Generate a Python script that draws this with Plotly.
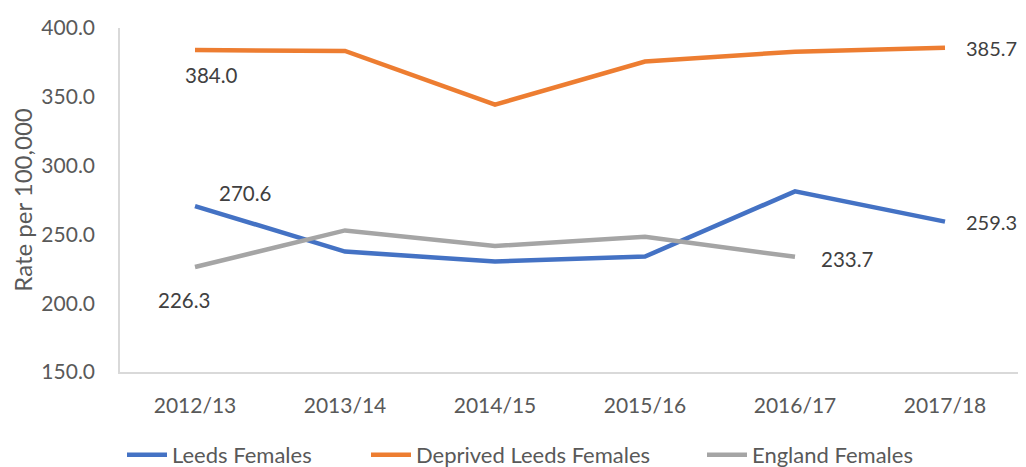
import plotly.graph_objects as go

years = ["2012/13", "2013/14", "2014/15", "2015/16", "2016/17", "2017/18"]
leeds = [270.6, 237.5, 230.3, 233.9, 281.3, 259.3]
deprived = [384.0, 383.3, 344.3, 375.6, 382.8, 385.7]
england = [226.3, 252.9, 241.6, 248.3, 233.7, None]

y_ticks = [150, 200, 250, 300, 350, 400]

FONT = "Lato"
TXT = "#595959"
LBL = "#404040"

# page body has an 8px margin; figure drawn 8px in from the window edges
W, H = 1018, 459

series_defs = [
    ("Leeds Females", leeds, "#4472C4", "legend", 122),
    ("Deprived Leeds Females", deprived, "#ED7D31", "legend2", 366),
    ("England Females", england, "#A5A5A5", "legend3", 702),
]

fig = go.Figure()
for name, vals, color, leg, _ in series_defs:
    fig.add_trace(go.Scatter(x=years, y=vals, name=name, mode="lines", legend=leg,
                             line=dict(color=color, width=4.5)))

# data labels: (series, index, xshift, yshift, size)
labels = [
    (deprived, 0, 16, -25, 20.5),
    (deprived, 5, 46, 0, 20),
    (leeds, 0, 50, 13, 20.5),
    (leeds, 5, 46, 0, 20),
    (england, 0, -11, -33, 20.5),
    (england, 4, 52, -2, 20.5),
]
for series, i, xs, ys, sz in labels:
    fig.add_annotation(x=years[i], y=series[i], xref="x", yref="y",
                       text=f"{series[i]:.1f}", showarrow=False,
                       xshift=xs, yshift=ys,
                       font=dict(family=FONT, size=sz, color=LBL))

legend_common = dict(orientation="h", xref="container", yref="container",
                     xanchor="left", y=1 - (455 - 8) / H, yanchor="middle",
                     font=dict(family=FONT, size=22, color=TXT), itemwidth=40)
layout_legends = {}
for name, vals, color, leg, x0 in series_defs:
    layout_legends[leg] = dict(legend_common, x=(x0 - 8) / W)

fig.update_layout(
    width=W, height=H,
    margin=dict(l=112, r=6, t=18, b=95),
    paper_bgcolor="white", plot_bgcolor="white",
    font=dict(family=FONT, size=21, color=TXT),
    showlegend=True,
    **layout_legends,
)
fig.update_xaxes(range=[-0.5, 5.5], showgrid=False, showline=True, linecolor="#D9D9D9",
                 linewidth=1.5, ticks="", tickfont=dict(family=FONT, size=21, color=TXT),
                 ticklabelstandoff=14, zeroline=False)
fig.update_yaxes(range=[150, 400], tickvals=y_ticks, tickformat=".1f",
                 showgrid=False, showline=True, linecolor="#D9D9D9", linewidth=1.5,
                 ticks="", tickfont=dict(family=FONT, size=21, color=TXT),
                 ticklabelstandoff=19, zeroline=False,
                 title=dict(text="Rate per 100,000", standoff=8,
                            font=dict(family=FONT, size=24, color=TXT)))

fig.write_html("out.html")
